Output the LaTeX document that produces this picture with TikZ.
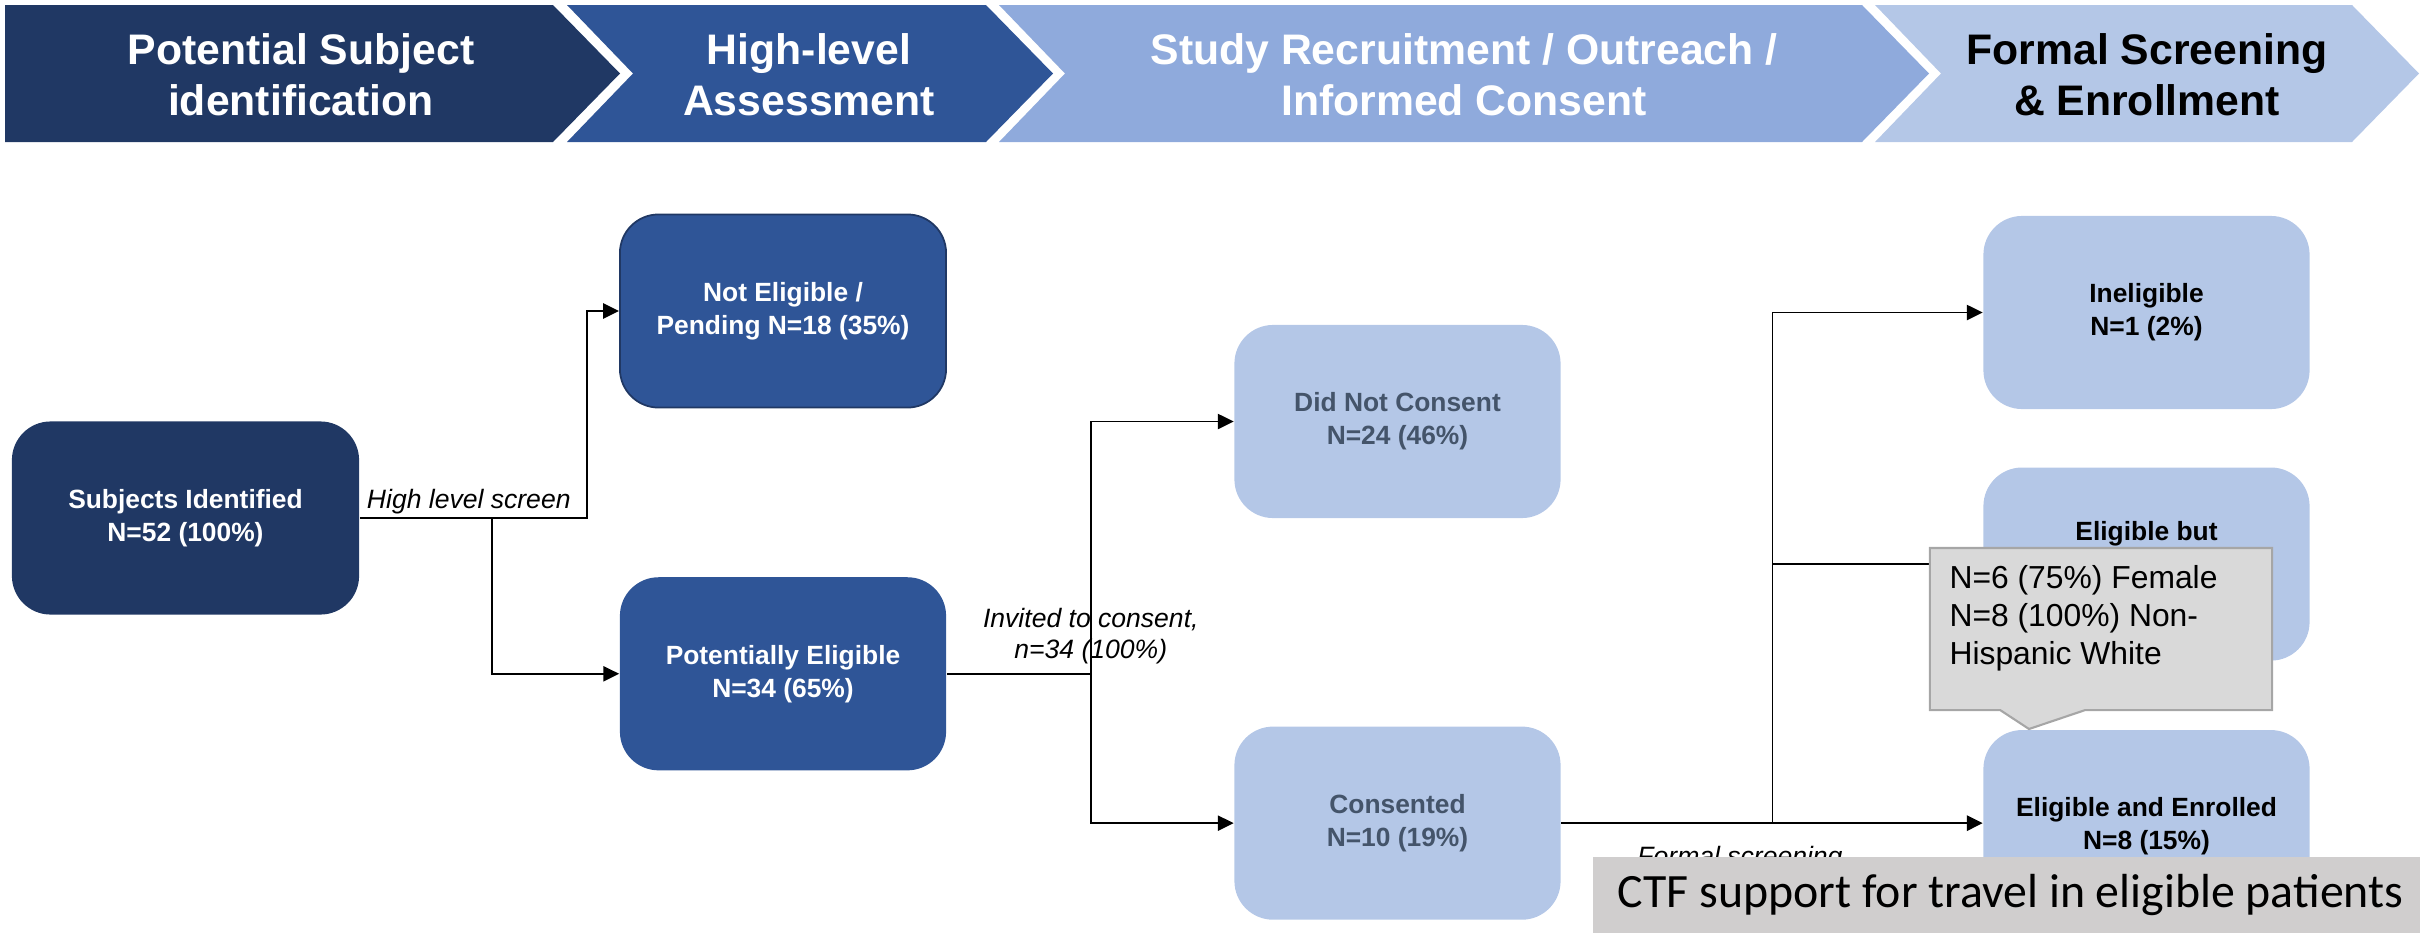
\documentclass[tikz,border=0pt]{standalone}
\usepackage{fontspec}
\setmainfont{Liberation Sans}
\newfontfamily\calibrifont{Carlito}
\usetikzlibrary{arrows.meta,positioning,shapes.callouts}

\definecolor{navy}{HTML}{203864}
\definecolor{midblue}{HTML}{2F5597}
\definecolor{skyblue}{HTML}{8FAADC}
\definecolor{paleblue}{HTML}{B4C7E7}
\definecolor{slate}{HTML}{44546A}
\definecolor{notegray}{HTML}{D9D9D9}
\definecolor{noteline}{HTML}{A6A6A6}
\definecolor{bargray}{HTML}{D0CECE}

\begin{document}
\begin{tikzpicture}[x=0.01cm, y=-0.01cm,
    phasetext/.style={text=white, font=\fontsize{12.15}{14.5}\selectfont\bfseries, align=center},
    flowbox/.style={rectangle, rounded corners=11pt, minimum width=3.26cm, minimum height=1.93cm, align=center, font=\fontsize{7.5}{9.4}\selectfont\bfseries},
    darkbox/.style={flowbox, fill=midblue, text=white},
    lightbox/.style={flowbox, fill=paleblue},
    line/.style={draw, line width=0.5pt, -{Triangle[length=4.5pt, width=4.3pt]}},
    note/.style={font=\fontsize{7.55}{8.8}\selectfont\itshape, inner sep=1pt, align=center}]

    \useasboundingbox (0,0) rectangle (2420,933);

    % phase banner
    \fill[navy] (5,5) -- (553,5) -- (620,73.5) -- (553,142) -- (5,142) -- cycle;
    \foreach \xa/\xb/\col in {567/986/midblue, 999/1862/skyblue, 1875/2352/paleblue}
        \fill[\col] (\xa,5) -- (\xb,5) -- (\xb+67,73.5) -- (\xb,142) -- (\xa,142) -- (\xa+66,73.5) -- cycle;

    \node[phasetext] (ph1) at (301,75) {Potential Subject\\identification};
    \node[phasetext] (ph2) at (809,75) {High-level\\Assessment};
    \node[phasetext] (ph3) at (1464,75) {Study Recruitment / Outreach /\\Informed Consent};
    \node[phasetext, text=black] (ph4) at (2147,75) {Formal Screening\\\& Enrollment};

    % flow boxes
    \node[flowbox, fill=navy, text=white, minimum width=3.47cm] (subj) at (185.5,518) {Subjects Identified\\N=52 (100\%)};
    \node[darkbox, draw=navy, line width=0.5pt] (noteli) at (783,311) {Not Eligible /\\Pending N=18 (35\%)};
    \node[darkbox, below=1.68cm of noteli] (poteli) {Potentially Eligible\\N=34 (65\%)};

    \node[lightbox, text=slate] (dnc) at (1397.5,421.5) {Did Not Consent\\N=24 (46\%)};
    \node[lightbox, text=slate, below=2.07cm of dnc] (cons) {Consented\\N=10 (19\%)};

    \node[lightbox] (inel) at (2146.5,312.5) {Ineligible\\N=1 (2\%)};
    \node[lightbox, below=0.57cm of inel,
          label={[font=\fontsize{7.5}{9.4}\selectfont\bfseries, yshift=0.305cm]center:Eligible but}] (elbut) {};
    \node[lightbox, below=0.68cm of elbut] (enrol) {Eligible and Enrolled\\N=8 (15\%)};

    % connectors
    \path[line] (subj.east) -- node[note, above, pos=0.48] (lblscreen) {High level screen} ++(227,0) |- (noteli.west);
    \path[line] ([xshift=1.32cm]subj.east) |- (poteli.west);

    \path[line] (poteli.east) -- ++(144,0) node[note, above=1.5pt] (lblinvite) {Invited to consent,\\n=34 (100\%)} |- (dnc.west);
    \path[line] ([xshift=1.44cm]poteli.east) |- (cons.west);

    \path[line, line width=0.75pt] (cons.east) -- (cons.east -| enrol.west);
    \path[line] ([xshift=2.11cm]cons.east) |- (inel.west);
    \path[line] ([xshift=2.11cm]cons.east) |- (elbut.west);

    % demographics call-out
    \node[rectangle callout, fill=notegray, draw=noteline, line width=0.6pt,
          minimum width=3.42cm, minimum height=1.62cm, callout pointer width=0.85cm,
          callout absolute pointer={(2029,729)}] (demog) at (2101,629) {};
    \node[anchor=north west, align=left, inner xsep=0.2cm, inner ysep=0.18cm,
          font=\fontsize{9.05}{10.8}\selectfont] (demogtxt) at (demog.north west)
          {N=6 (75\%) Female\\N=8 (100\%) Non-\\Hispanic White};

    % travel support banner
    \node[note, anchor=base] (lblformal) at (1740,865) {Formal screening};
    \node[anchor=west, fill=bargray, minimum height=0.76cm, inner xsep=0.25cm,
          font=\calibrifont\fontsize{13.6}{16}\selectfont] (ctf) at (1592,895) {CTF support for travel in eligible patients};
\end{tikzpicture}
\end{document}
